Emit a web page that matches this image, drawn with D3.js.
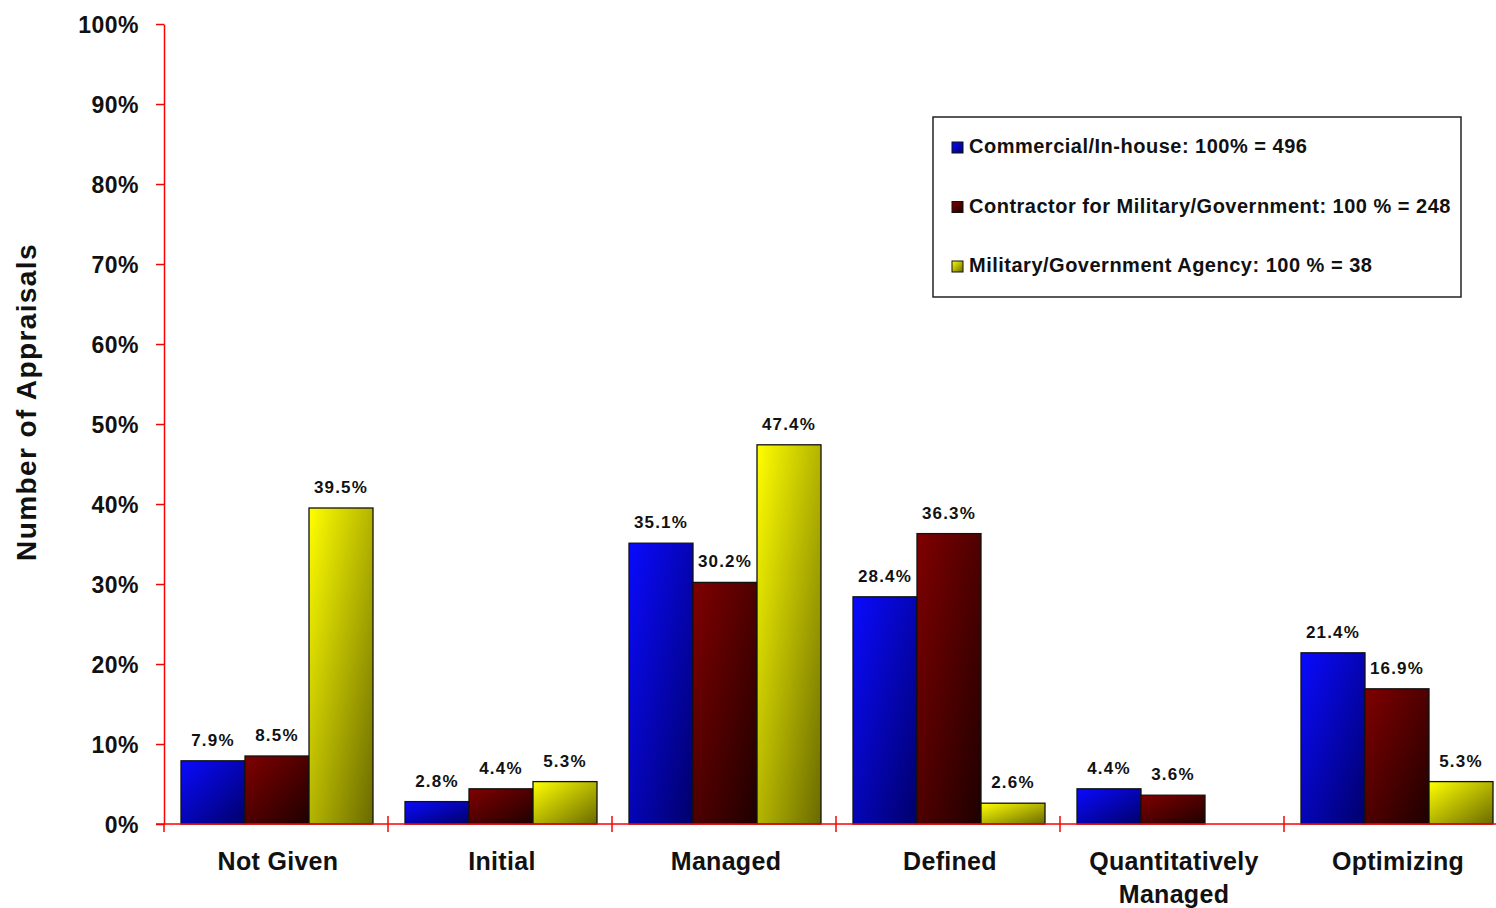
<!DOCTYPE html>
<html>
<head>
<meta charset="utf-8">
<script src="https://cdn.jsdelivr.net/npm/d3@7"></script>
<style>
  body { margin: 0; background: #fff; }
  text { font-family: "Liberation Sans", Arial, sans-serif; font-weight: bold; fill: #111; }
</style>
</head>
<body>
<div id="chart"></div>
<script>
// categories (x axis)
const categories = ["Not Given", "Initial", "Managed", "Defined", "Quantitatively Managed", "Optimizing"];
// series names as shown in the legend
const seriesNames = [
	"Commercial/In-house: 100% = 496",
	"Contractor for Military/Government: 100 % = 248",
	"Military/Government Agency: 100 % = 38"
];
// percent values per series (null = no bar)
const commercial = [7.9, 2.8, 35.1, 28.4, 4.4, 21.4];
const contractor = [8.5, 4.4, 30.2, 36.3, 3.6, 16.9];
const agency     = [39.5, 5.3, 47.4, 2.6, null, 5.3];
const yTicks = [0, 10, 20, 30, 40, 50, 60, 70, 80, 90, 100];

function whenDocumentLoaded(action) {
	if (document.readyState === "loading") {
		document.addEventListener("DOMContentLoaded", action);
	} else {
		action();
	}
}

whenDocumentLoaded(() => {
	const W = 1496, H = 908;
	const margin = {top: 24, left: 164, bottom: 84};
	const plotH = H - margin.top - margin.bottom;   // 800

	const svg = d3.select("#chart").append("svg")
		.attr("width", W).attr("height", H);

	// gradients: light top-left to dark bottom-right
	const grads = [
		{id: "g0", from: "#0a0aff", to: "#00006a"},
		{id: "g1", from: "#800000", to: "#1e0000"},
		{id: "g2", from: "#ffff00", to: "#6a6a00"}
	];
	const defs = svg.append("defs");
	grads.forEach(g => {
		const lg = defs.append("linearGradient").attr("id", g.id)
			.attr("x1", 0).attr("y1", 0).attr("x2", 1).attr("y2", 1);
		lg.append("stop").attr("offset", "0%").attr("stop-color", g.from);
		lg.append("stop").attr("offset", "100%").attr("stop-color", g.to);
	});

	const y = d3.scaleLinear().domain([0, 100]).range([margin.top + plotH, margin.top]);
	const x0 = d3.scaleBand().domain(categories)
		.range([margin.left, margin.left + 224 * categories.length]);
	const x1 = d3.scaleBand().domain([0, 1, 2])
		.range([0, x0.bandwidth()]).paddingOuter(0.25);

	const series = [commercial, contractor, agency];
	const rows = [];
	series.forEach((vals, s) => vals.forEach((v, i) => {
		if (v !== null) rows.push({s: s, cat: categories[i], v: v});
	}));

	// bars
	svg.append("g").selectAll("rect")
		.data(rows).enter().append("rect")
		.attr("x", d => x0(d.cat) + x1(d.s) + 1)
		.attr("y", d => y(d.v))
		.attr("width", x1.bandwidth())
		.attr("height", d => y(0) - y(d.v))
		.attr("fill", d => "url(#g" + d.s + ")")
		.attr("stroke", "#111")
		.attr("stroke-width", 1.3);

	// value labels
	svg.append("g").selectAll("text")
		.data(rows).enter().append("text")
		.attr("x", d => x0(d.cat) + x1(d.s) + x1.bandwidth() / 2 + 1)
		.attr("y", d => y(d.v) - 15)
		.attr("text-anchor", "middle")
		.style("font-size", "17px")
		.style("letter-spacing", "1.2px")
		.text(d => d.v.toFixed(1) + "%");

	// y axis
	const yAxis = svg.append("g")
		.attr("transform", "translate(" + margin.left + ",0)")
		.call(d3.axisLeft(y).tickValues(yTicks).tickFormat(d => d + "%")
			.tickSize(8).tickSizeOuter(0).tickPadding(17));
	yAxis.select(".domain").attr("stroke", "#ff0000").attr("stroke-width", 1.5);
	yAxis.selectAll(".tick line").attr("stroke", "#ff0000").attr("stroke-width", 1.5);
	yAxis.selectAll(".tick text")
		.style("font-size", "23px").style("letter-spacing", "0.5px")
		.attr("dy", "0.36em");
	yAxis.append("line")
		.attr("x1", 0).attr("x2", 0).attr("y1", y(0)).attr("y2", y(0) + 8)
		.attr("stroke", "#ff0000").attr("stroke-width", 1.5);

	// x axis line and category boundary ticks
	const xg = svg.append("g");
	xg.append("line")
		.attr("x1", margin.left - 8).attr("x2", W)
		.attr("y1", y(0)).attr("y2", y(0))
		.attr("stroke", "#ff0000").attr("stroke-width", 1.5);
	xg.selectAll(".bt")
		.data(categories.slice(1)).enter().append("line")
		.attr("x1", d => x0(d)).attr("x2", d => x0(d))
		.attr("y1", y(0) - 8).attr("y2", y(0) + 8)
		.attr("stroke", "#ff0000").attr("stroke-width", 1.5);

	// category labels
	const cl = xg.selectAll(".cl")
		.data(categories).enter().append("text")
		.attr("text-anchor", "middle")
		.attr("x", d => x0(d) + x0.bandwidth() / 2 + 2)
		.attr("y", y(0) + 46)
		.style("font-size", "25px")
		.style("letter-spacing", "0.3px");
	cl.each(function(d) {
		const words = d === "Quantitatively Managed" ? ["Quantitatively", "Managed"] : [d];
		const t = d3.select(this);
		words.forEach((w, i) => {
			t.append("tspan")
				.attr("x", x0(d) + x0.bandwidth() / 2 + 2)
				.attr("dy", i === 0 ? 0 : 33)
				.text(w);
		});
	});

	// y axis title
	svg.append("text")
		.attr("transform", "translate(36,402) rotate(-90)")
		.attr("text-anchor", "middle")
		.style("font-size", "28px")
		.style("letter-spacing", "1.4px")
		.text("Number of Appraisals");

	// legend
	const lg = svg.append("g");
	lg.append("rect")
		.attr("x", 933).attr("y", 117).attr("width", 528).attr("height", 180)
		.attr("fill", "#fff").attr("stroke", "#222").attr("stroke-width", 1.5);
	const items = lg.selectAll(".li")
		.data(seriesNames).enter().append("g")
		.attr("transform", (d, i) => "translate(952," + (153 + i * 59.5) + ")");
	items.append("rect")
		.attr("x", 0).attr("y", -11).attr("width", 11).attr("height", 11)
		.attr("fill", (d, i) => "url(#g" + i + ")")
		.attr("stroke", "#111").attr("stroke-width", 1);
	items.append("text")
		.attr("x", 17).attr("y", 0)
		.style("font-size", "20px")
		.style("letter-spacing", "0.5px")
		.text(d => d);
});
</script>
</body>
</html>
